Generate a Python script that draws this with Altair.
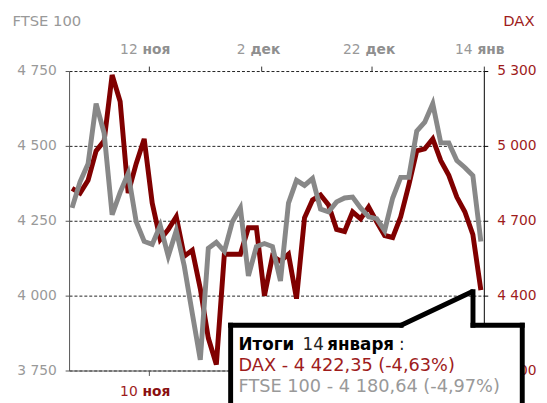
import altair as alt
import pandas as pd

# ---- data ----
ftse = [4293, 4380, 4440, 4641, 4543, 4270, 4345, 4408, 4247, 4181,
        4171, 4234, 4132, 4217, 4099, 3941, 3786, 4158, 4178, 4148,
        4247, 4293, 4066, 4164, 4174, 4164, 4049, 4309, 4385, 4368,
        4391, 4289, 4280, 4313, 4326, 4329, 4293, 4263, 4257, 4217,
        4326, 4395, 4395, 4549, 4579, 4641, 4510, 4510, 4451, 4428,
        4401, 4180.64]
dax = [4830, 4811, 4862, 4980, 5020, 5284, 5178, 4811, 4929, 5028,
       4771, 4625, 4665, 4716, 4558, 4582, 4428, 4230, 4124, 4566,
       4566, 4566, 4672, 4672, 4400, 4558, 4538, 4566, 4388, 4712,
       4783, 4803, 4763, 4665, 4657, 4736, 4708, 4755, 4696, 4641,
       4633, 4716, 4842, 4980, 4988, 5028, 4941, 4882, 4795, 4736,
       4645, 4422.35]
day_index = list(range(len(ftse)))

top_tick_pos = [9.6, 23.6, 37.4, 51.37]
top_days = ["12", "2", "22", "14"]
top_months = ["ноя", "дек", "дек", "янв"]
bottom_tick_pos = [9.6]
bottom_days = ["10"]
bottom_months = ["ноя"]

ftse_ticks = [3750, 4000, 4250, 4500, 4750]
dax_ticks = [4100, 4400, 4700, 5000, 5300]

summary_title = ["Итоги", "14", "января", ":"]
summary_dax = "DAX - 4 422,35 (-4,63%)"
summary_ftse = "FTSE 100 - 4 180,64 (-4,97%)"

# ---- styles ----
RED = "#800000"
RED_TXT = "#9e1c1c"
GRAY = "#888888"
GRAY_TXT = "#999999"
FONT = "DejaVu Sans"
W, H = 421, 304
XDOM = [-0.37, 51.37]
PX_PER_UNIT = W / (XDOM[1] - XDOM[0])

df = pd.DataFrame({"i": day_index, "ftse": ftse, "dax": dax})
xscale = alt.Scale(domain=XDOM, nice=False, zero=False)
space_label = "replace(format(datum.value, ','), ',', ' ')"

red_line = alt.Chart(df).mark_line(color=RED, strokeWidth=5).encode(
    x=alt.X("i:Q", scale=xscale, axis=alt.Axis(
        orient="bottom", values=bottom_tick_pos, labels=False, ticks=True,
        tickSize=5, domainColor="#555555", tickColor="#555555", grid=False,
        title=None, zindex=0)),
    y=alt.Y("dax:Q", scale=alt.Scale(domain=[4100, 5300], nice=False, zero=False),
            axis=alt.Axis(orient="right", values=dax_ticks, labelExpr=space_label,
                          labelColor=RED_TXT, labelFont=FONT, labelFontSize=14,
                          labelPadding=9, tickSize=4, domainColor="#000000",
                          tickColor="#000000", grid=False, title="DAX",
                          titleAngle=0, titleX=51, titleY=-46, titleAlign="right",
                          titleBaseline="alphabetic", titleColor=RED_TXT,
                          titleFont=FONT, titleFontSize=15,
                          titleFontWeight="normal", zindex=0)),
)

gray_line = alt.Chart(df).mark_line(color=GRAY, strokeWidth=5).encode(
    x=alt.X("i:Q", scale=xscale, axis=alt.Axis(
        orient="top", values=top_tick_pos, labels=False, ticks=True,
        tickSize=5, domain=False, tickColor="#333333", grid=False,
        title=None, zindex=0)),
    y=alt.Y("ftse:Q", scale=alt.Scale(domain=[3750, 4750], nice=False, zero=False),
            axis=alt.Axis(orient="left", values=ftse_ticks, labelExpr=space_label,
                          labelColor=GRAY_TXT, labelFont=FONT, labelFontSize=14,
                          labelPadding=9, tickSize=4, domainColor="#555555",
                          tickColor="#555555", grid=True, gridDash=[3, 2],
                          gridColor="#222222", gridWidth=1, title="FTSE 100",
                          titleAngle=0, titleX=-58, titleY=-46, titleAlign="left",
                          titleBaseline="alphabetic", titleColor=GRAY_TXT,
                          titleFont=FONT, titleFontSize=15,
                          titleFontWeight="normal", zindex=0)),
)


def date_labels(pos, days, months, ypix, day_color, mon_color):
    d = pd.DataFrame({"t": pos, "day": days, "mon": months})
    base = alt.Chart(d).transform_calculate(
        wd="length(datum.day) * 8.9",
        wm="length(datum.mon) * 9.6",
    ).transform_calculate(
        left="-3.5 - (datum.wd + 5 + datum.wm) / 2",
    ).transform_calculate(
        xd=f"datum.t + (datum.left + datum.wd) / {PX_PER_UNIT}",
        xm=f"datum.t + (datum.left + datum.wd + 5) / {PX_PER_UNIT}",
    )
    day_t = base.mark_text(align="right", baseline="alphabetic", font=FONT,
                           fontSize=14, color=day_color).encode(
        x=alt.X("xd:Q", scale=xscale, axis=None), y=alt.value(ypix), text="day:N")
    mon_t = base.mark_text(align="left", baseline="alphabetic", font=FONT,
                           fontSize=14, fontWeight="bold", color=mon_color).encode(
        x=alt.X("xm:Q", scale=xscale, axis=None), y=alt.value(ypix), text="mon:N")
    return [day_t, mon_t]


top_labels = date_labels(top_tick_pos, top_days, top_months, -17, GRAY_TXT, "#8f8f8f")
bottom_labels = date_labels(bottom_tick_pos, bottom_days, bottom_months, 330, RED_TXT, "#8a1010")


def rule(x1, y1, x2, y2, cap="square", color="#000000", width=5):
    return alt.Chart(pd.DataFrame({"a": [0]})).mark_rule(
        color=color, strokeWidth=width, strokeCap=cap).encode(
        x=alt.value(x1), y=alt.value(y1), x2=alt.value(x2), y2=alt.value(y2))


def txt(text, x, y, color, weight="normal", size=18):
    return alt.Chart(pd.DataFrame({"t": [text]})).mark_text(
        align="left", baseline="alphabetic", font=FONT, fontSize=size,
        fontWeight=weight, color=color).encode(
        x=alt.value(x), y=alt.value(y), text="t:N")


box_fill = alt.Chart(pd.DataFrame({"a": [0]})).mark_rect(color="white").encode(
    x=alt.value(164), x2=alt.value(460), y=alt.value(258), y2=alt.value(345))

box = [
    box_fill,
    rule(164, 258, 164, 345),
    rule(164, 258, 337, 258),
    rule(337, 258, 409, 224, cap="round"),
    rule(410, 224, 410, 258),
    rule(410, 258, 460, 258),
    rule(460, 258, 460, 345),
]

texts = [
    txt(summary_title[0], 172, 283, "#000000", "bold", 17),
    txt(summary_title[1], 237, 283, "#222222", "normal", 17),
    txt(summary_title[2], 262, 283, "#000000", "bold", 17),
    txt(summary_title[3], 335, 283, "#222222", "normal", 17),
    txt(summary_dax, 172, 304, RED_TXT),
    txt(summary_ftse, 172, 326, GRAY_TXT),
]

chart = alt.layer(
    red_line, gray_line, *top_labels, *bottom_labels, *box, *texts
).resolve_scale(y="independent").resolve_axis(x="independent").properties(
    width=W, height=H,
    autosize=alt.AutoSizeParams(type="none"),
    padding={"left": 62, "top": 61, "right": 56, "bottom": 30},
).configure_view(stroke=None)

chart.save("out.html", embed_options={"renderer": "svg", "actions": False})
